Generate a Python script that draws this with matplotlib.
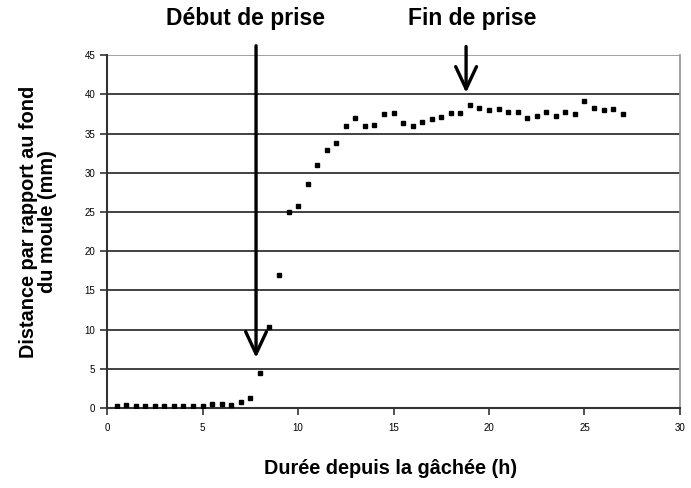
import matplotlib.pyplot as plt

plt.rcParams['font.family'] = ['Liberation Sans', 'DejaVu Sans']

# durée (h) et distance au fond du moule (mm)
duree = [0.5, 1.0, 1.5, 2.0, 2.5, 3.0, 3.5, 4.0, 4.5, 5.0,
         5.5, 6.0, 6.5, 7.0, 7.5, 8.0, 8.5, 9.0, 9.5, 10.0,
         10.5, 11.0, 11.5, 12.0, 12.5, 13.0, 13.5, 14.0, 14.5, 15.0,
         15.5, 16.0, 16.5, 17.0, 17.5, 18.0, 18.5, 19.0, 19.5, 20.0,
         20.5, 21.0, 21.5, 22.0, 22.5, 23.0, 23.5, 24.0, 24.5, 25.0,
         25.5, 26.0, 26.5, 27.0]
distance = [0.2, 0.4, 0.3, 0.3, 0.3, 0.3, 0.3, 0.3, 0.3, 0.3,
            0.5, 0.5, 0.4, 0.7, 1.3, 4.5, 10.3, 17.0, 25.0, 25.7,
            28.6, 31.0, 32.9, 33.8, 36.0, 37.0, 35.9, 36.1, 37.5, 37.6,
            36.4, 36.0, 36.5, 36.8, 37.1, 37.6, 37.6, 38.7, 38.3, 38.0,
            38.1, 37.8, 37.8, 37.0, 37.2, 37.7, 37.2, 37.7, 37.5, 39.2,
            38.3, 38.0, 38.1, 37.5]

x_ticks = [0, 5, 10, 15, 20, 25, 30]
y_ticks = [0, 5, 10, 15, 20, 25, 30, 35, 40, 45]

debut_x, debut_y = 7.8, 6.4
fin_x, fin_y = 18.8, 40.2

fig = plt.figure(figsize=(6.91, 4.88), dpi=100)
ax = fig.add_axes([0.155, 0.164, 0.829, 0.723])

# quadrillage horizontal
for y in y_ticks[1:-1]:
    ax.axhline(y, color='#333333', lw=1.3, zorder=1)
ax.axhline(45, color='#999999', lw=1.3, zorder=1)

ax.plot(duree, distance, 's', color='black', markersize=3.0, zorder=3)

ax.set_xlim(0, 30)
ax.set_ylim(0, 45)
ax.set_xticks(x_ticks)
ax.set_yticks(y_ticks)
ax.tick_params(labelsize=7, colors='#333333', length=5, width=1.2, direction='out')
ax.tick_params(axis='x', pad=6)
for lab in ax.get_xticklabels() + ax.get_yticklabels():
    lab.set_color('black')

ax.spines['top'].set_visible(False)
ax.spines['right'].set_color('#999999')
ax.spines['right'].set_linewidth(1.3)
ax.spines['left'].set_color('#333333')
ax.spines['left'].set_linewidth(1.5)
ax.spines['bottom'].set_color('#333333')
ax.spines['bottom'].set_linewidth(1.5)

ax.set_xlabel('Durée depuis la gâchée (h)', fontsize=14.3, fontweight='bold',
              va='center')
ax.xaxis.set_label_coords(0.494, -0.172)
ax.set_ylabel('Distance par rapport au fond\ndu moule (mm)', fontsize=14.3,
              fontweight='bold', va='center', ha='center', linespacing=1.0)
ax.yaxis.set_label_coords(-0.12, 0.527)

# flèches début / fin de prise
arrow = dict(arrowstyle='->, head_length=1.6, head_width=0.75', lw=2.4,
             color='black', shrinkA=0, shrinkB=0)
ax.annotate('', xy=(debut_x, debut_y), xytext=(debut_x, 46.2),
            arrowprops=arrow, annotation_clip=False, zorder=4)
ax.annotate('', xy=(fin_x, fin_y), xytext=(fin_x, 46.1),
            arrowprops=arrow, annotation_clip=False, zorder=4)

fig.text(245 / 691, 1 - 18 / 488, 'Début de prise', fontsize=16.5,
         fontweight='bold', ha='center', va='center')
fig.text(472 / 691, 1 - 18 / 488, 'Fin de prise', fontsize=16.5,
         fontweight='bold', ha='center', va='center')

fig.savefig('out.png', dpi=100)
